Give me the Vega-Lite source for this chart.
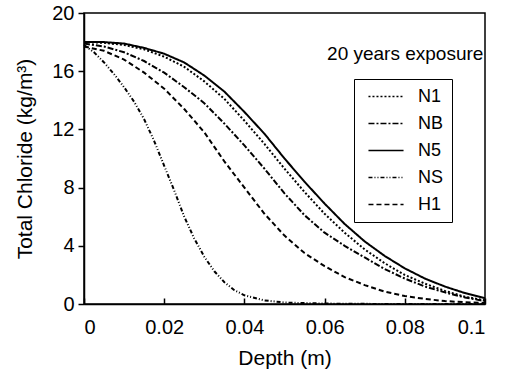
{
  "$schema": "https://vega.github.io/schema/vega-lite/v6.json",
  "width": 401,
  "height": 291,
  "padding": {"left": 14, "top": 3, "right": 5, "bottom": 5},
  "background": "white",
  "config": {
    "font": "Liberation Sans",
    "view": {"stroke": "black", "strokeWidth": 1.5},
    "axis": {"grid": false, "domainColor": "black", "domainWidth": 1.5, "tickColor": "black", "tickWidth": 1.5, "labelColor": "black", "titleColor": "black", "labelFont": "Liberation Sans", "titleFont": "Liberation Sans", "labelFontSize": 20, "titleFontSize": 21, "titleFontWeight": "normal"}
  },
  "datasets": {
    "curves": [
      {"d": 0, "c": 18.0, "s": "N5"}, {"d": 0.005, "c": 18.0, "s": "N5"}, {"d": 0.01, "c": 17.9, "s": "N5"}, {"d": 0.015, "c": 17.6, "s": "N5"}, {"d": 0.02, "c": 17.2, "s": "N5"}, {"d": 0.025, "c": 16.6, "s": "N5"}, {"d": 0.03, "c": 15.7, "s": "N5"}, {"d": 0.035, "c": 14.6, "s": "N5"}, {"d": 0.04, "c": 13.2, "s": "N5"}, {"d": 0.045, "c": 11.7, "s": "N5"}, {"d": 0.05, "c": 10.0, "s": "N5"}, {"d": 0.055, "c": 8.4, "s": "N5"}, {"d": 0.06, "c": 6.9, "s": "N5"}, {"d": 0.065, "c": 5.5, "s": "N5"}, {"d": 0.07, "c": 4.3, "s": "N5"}, {"d": 0.075, "c": 3.3, "s": "N5"}, {"d": 0.08, "c": 2.45, "s": "N5"}, {"d": 0.085, "c": 1.75, "s": "N5"}, {"d": 0.09, "c": 1.2, "s": "N5"}, {"d": 0.095, "c": 0.75, "s": "N5"}, {"d": 0.1, "c": 0.4, "s": "N5"},
      {"d": 0, "c": 18.0, "s": "N1"}, {"d": 0.005, "c": 17.95, "s": "N1"}, {"d": 0.01, "c": 17.8, "s": "N1"}, {"d": 0.015, "c": 17.5, "s": "N1"}, {"d": 0.02, "c": 17.0, "s": "N1"}, {"d": 0.025, "c": 16.3, "s": "N1"}, {"d": 0.03, "c": 15.3, "s": "N1"}, {"d": 0.035, "c": 14.1, "s": "N1"}, {"d": 0.04, "c": 12.6, "s": "N1"}, {"d": 0.045, "c": 11.0, "s": "N1"}, {"d": 0.05, "c": 9.3, "s": "N1"}, {"d": 0.055, "c": 7.7, "s": "N1"}, {"d": 0.06, "c": 6.2, "s": "N1"}, {"d": 0.065, "c": 4.9, "s": "N1"}, {"d": 0.07, "c": 3.75, "s": "N1"}, {"d": 0.075, "c": 2.8, "s": "N1"}, {"d": 0.08, "c": 2.0, "s": "N1"}, {"d": 0.085, "c": 1.4, "s": "N1"}, {"d": 0.09, "c": 0.9, "s": "N1"}, {"d": 0.095, "c": 0.5, "s": "N1"}, {"d": 0.1, "c": 0.25, "s": "N1"},
      {"d": 0, "c": 17.9, "s": "NB"}, {"d": 0.005, "c": 17.7, "s": "NB"}, {"d": 0.01, "c": 17.3, "s": "NB"}, {"d": 0.015, "c": 16.7, "s": "NB"}, {"d": 0.02, "c": 15.9, "s": "NB"}, {"d": 0.025, "c": 14.9, "s": "NB"}, {"d": 0.03, "c": 13.8, "s": "NB"}, {"d": 0.035, "c": 12.4, "s": "NB"}, {"d": 0.04, "c": 10.9, "s": "NB"}, {"d": 0.045, "c": 9.3, "s": "NB"}, {"d": 0.05, "c": 7.6, "s": "NB"}, {"d": 0.055, "c": 6.1, "s": "NB"}, {"d": 0.06, "c": 4.9, "s": "NB"}, {"d": 0.065, "c": 4.0, "s": "NB"}, {"d": 0.07, "c": 3.2, "s": "NB"}, {"d": 0.075, "c": 2.4, "s": "NB"}, {"d": 0.08, "c": 1.75, "s": "NB"}, {"d": 0.085, "c": 1.2, "s": "NB"}, {"d": 0.09, "c": 0.8, "s": "NB"}, {"d": 0.095, "c": 0.45, "s": "NB"}, {"d": 0.1, "c": 0.2, "s": "NB"},
      {"d": 0, "c": 17.7, "s": "H1"}, {"d": 0.005, "c": 17.4, "s": "H1"}, {"d": 0.01, "c": 16.8, "s": "H1"}, {"d": 0.015, "c": 15.9, "s": "H1"}, {"d": 0.02, "c": 14.8, "s": "H1"}, {"d": 0.025, "c": 13.4, "s": "H1"}, {"d": 0.03, "c": 11.8, "s": "H1"}, {"d": 0.035, "c": 9.8, "s": "H1"}, {"d": 0.04, "c": 8.0, "s": "H1"}, {"d": 0.045, "c": 6.2, "s": "H1"}, {"d": 0.05, "c": 4.7, "s": "H1"}, {"d": 0.055, "c": 3.5, "s": "H1"}, {"d": 0.06, "c": 2.6, "s": "H1"}, {"d": 0.065, "c": 1.85, "s": "H1"}, {"d": 0.07, "c": 1.3, "s": "H1"}, {"d": 0.075, "c": 0.85, "s": "H1"}, {"d": 0.08, "c": 0.55, "s": "H1"}, {"d": 0.085, "c": 0.35, "s": "H1"}, {"d": 0.09, "c": 0.2, "s": "H1"}, {"d": 0.095, "c": 0.12, "s": "H1"}, {"d": 0.1, "c": 0.07, "s": "H1"},
      {"d": 0, "c": 17.8, "s": "NS"}, {"d": 0.0025, "c": 17.3, "s": "NS"}, {"d": 0.005, "c": 16.6, "s": "NS"}, {"d": 0.0075, "c": 15.8, "s": "NS"}, {"d": 0.01, "c": 14.9, "s": "NS"}, {"d": 0.0125, "c": 13.9, "s": "NS"}, {"d": 0.015, "c": 12.7, "s": "NS"}, {"d": 0.0175, "c": 11.2, "s": "NS"}, {"d": 0.02, "c": 9.5, "s": "NS"}, {"d": 0.0225, "c": 7.8, "s": "NS"}, {"d": 0.025, "c": 6.0, "s": "NS"}, {"d": 0.0275, "c": 4.5, "s": "NS"}, {"d": 0.03, "c": 3.25, "s": "NS"}, {"d": 0.0325, "c": 2.25, "s": "NS"}, {"d": 0.035, "c": 1.5, "s": "NS"}, {"d": 0.0375, "c": 0.95, "s": "NS"}, {"d": 0.04, "c": 0.6, "s": "NS"}, {"d": 0.045, "c": 0.25, "s": "NS"}, {"d": 0.05, "c": 0.1, "s": "NS"}, {"d": 0.06, "c": 0.03, "s": "NS"}, {"d": 0.07, "c": 0.01, "s": "NS"}, {"d": 0.08, "c": 0, "s": "NS"}, {"d": 0.1, "c": 0, "s": "NS"}
    ],
    "note": [{"d": 0.0996, "c": 17.2, "t": "20 years exposure"}]
  },
  "layer": [
    {
      "data": {"name": "curves"},
      "mark": {"type": "line", "color": "black", "strokeWidth": 2},
      "encoding": {
        "x": {"field": "d", "type": "quantitative", "title": "Depth (m)", "scale": {"domain": [0, 0.1], "nice": false}, "axis": {"values": [0, 0.02, 0.04, 0.06, 0.08, 0.1], "format": "~g", "tickSize": -6, "labelPadding": 19, "titlePadding": 10}},
        "y": {"field": "c", "type": "quantitative", "title": "Total Chloride (kg/m³)", "scale": {"domain": [0, 20], "nice": false}, "axis": {"values": [0, 4, 8, 12, 16, 20], "tickSize": 6, "labelPadding": 4, "titlePadding": 16}},
        "strokeDash": {
          "field": "s", "type": "nominal",
          "scale": {"domain": ["N1", "NB", "N5", "NS", "H1"], "range": [[2, 2], [6, 2, 2, 2], [1, 0], [4, 2, 1, 2, 1, 2], [5, 3]]},
          "legend": {"orient": "none", "legendX": 270, "legendY": 66, "title": null, "strokeColor": "black", "fillColor": "white", "padding": 8, "symbolType": "M-0.35,0H3.7", "symbolSize": 300, "symbolStrokeWidth": 1.5, "symbolStrokeColor": "black", "symbolFillColor": "transparent", "labelFontSize": 18, "labelFont": "Liberation Sans", "labelColor": "black", "labelOffset": 37, "rowPadding": 8}
        },
        "detail": {"field": "s"}
      }
    },
    {
      "data": {"name": "note"},
      "mark": {"type": "text", "align": "right", "baseline": "middle", "fontSize": 19, "font": "Liberation Sans", "color": "black"},
      "encoding": {
        "x": {"field": "d", "type": "quantitative"},
        "y": {"field": "c", "type": "quantitative"},
        "text": {"field": "t"}
      }
    }
  ]
}
